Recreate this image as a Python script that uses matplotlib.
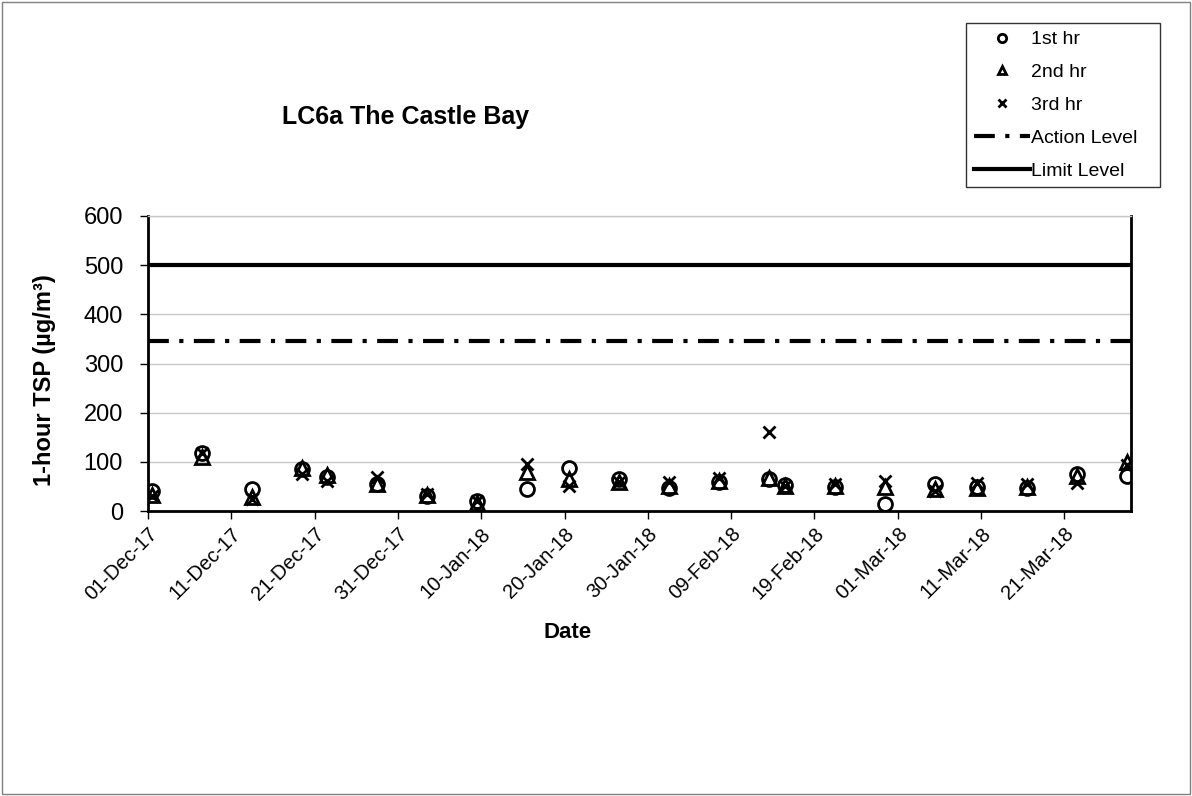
import numpy as np
import pandas as pd
import matplotlib
matplotlib.use("Agg")
import matplotlib.pyplot as plt
import matplotlib.dates as mdates
from matplotlib import font_manager
from matplotlib.patches import Rectangle

# sampling dates and the three hourly readings (ug/m3)
dates = ["2017-12-01", "2017-12-07", "2017-12-13", "2017-12-19", "2017-12-22",
         "2017-12-28", "2018-01-03", "2018-01-09", "2018-01-15", "2018-01-20",
         "2018-01-26", "2018-02-01", "2018-02-07", "2018-02-13", "2018-02-15",
         "2018-02-21", "2018-02-27", "2018-03-05", "2018-03-10", "2018-03-16",
         "2018-03-22", "2018-03-28"]
hr1 = [40, 117, 45, 85, 70, 55, 30, 20, 44, 88, 66, 46, 60, 66, 52, 48, 15, 55, 48, 46, 76, 72]
hr2 = [32, 110, 28, 88, 73, 55, 32, 17, 80, 66, 60, 50, 62, 68, 50, 50, 48, 45, 46, 48, 72, 100]
hr3 = [30, 118, 25, 75, 62, 70, 34, 20, 96, 50, 58, 58, 68, 160, 50, 55, 62, 40, 56, 54, 57, 93]
action_level = 345
limit_level = 500

names = {f.name for f in font_manager.fontManager.ttflist}
base_font = "Liberation Sans" if "Liberation Sans" in names else "DejaVu Sans"
plt.rcParams['font.family'] = [base_font, 'DejaVu Sans']

W, H = 1192, 796
x = pd.to_datetime(dates) + pd.Timedelta(hours=12)

fig = plt.figure(figsize=(W/100, H/100), dpi=100)
ax = fig.add_axes([148/W, 1 - 511/H, (1131-148)/W, (511-216)/H])

ax.plot(x, hr1, linestyle='none', marker='o', markersize=10, markerfacecolor='none',
        markeredgecolor='black', markeredgewidth=2, label='1st hr', zorder=5)
ax.plot(x, hr2, linestyle='none', marker='^', markersize=10, markerfacecolor='none',
        markeredgecolor='black', markeredgewidth=2, label='2nd hr', zorder=5)
ax.plot(x, hr3, linestyle='none', marker='x', markersize=9, markeredgecolor='black',
        markeredgewidth=2, label='3rd hr', zorder=5)

start = pd.Timestamp("2017-12-01")
end = pd.Timestamp("2018-03-29")
ax.plot([start, end], [action_level, action_level], color='black', linewidth=3,
        linestyle=(0, (5, 2.5, 1, 2.5)), label='Action Level', zorder=4)
ax.plot([start, end], [limit_level, limit_level], color='black', linewidth=3,
        linestyle='-', label='Limit Level', zorder=4)

ax.set_xlim(start, end)
ax.set_ylim(0, 600)
ax.set_yticks(np.arange(0, 601, 100))
ticks = pd.date_range(start, end, freq='10D')
ax.set_xticks(ticks)
ax.xaxis.set_major_formatter(mdates.DateFormatter('%d-%b-%y'))
ax.tick_params(axis='both', direction='out', length=6, width=1, color='black')
ax.tick_params(axis='y', labelsize=17, pad=12)
ax.tick_params(axis='x', labelsize=14.5)
for lab in ax.get_xticklabels():
    lab.set_rotation(45)
    lab.set_ha('right')
    lab.set_rotation_mode('anchor')

ax.grid(axis='y', color='#c8c8c8', linewidth=1)
ax.set_axisbelow(True)
for side in ['left', 'bottom', 'right']:
    ax.spines[side].set_linewidth(2)
    ax.spines[side].set_color('black')
ax.spines['top'].set_linewidth(1)
ax.spines['top'].set_color('#c8c8c8')

# axis titles sit where the reference has them, not centred on the axes
fig.text(568/W, 1 - 633/H, 'Date', fontsize=16, fontweight='bold', ha='center', va='center')
fig.text(45/W, 1 - 380/H, '1-hour TSP (µg/m³)', fontsize=17, fontweight='bold',
         rotation=90, ha='center', va='center')

fig.text(406/W, 1 - 117/H, 'LC6a The Castle Bay', fontsize=18, fontweight='bold',
         ha='center', va='center')

leg = ax.legend(loc='upper left', bbox_to_anchor=(966/W, 1 - 185/H, (1160-966)/W, (185-23)/H),
                bbox_transform=fig.transFigure, mode='expand', fontsize=14, markerscale=0.6,
                frameon=True, fancybox=False, edgecolor='black', borderpad=0.4,
                labelspacing=0.78, handlelength=2.9, handletextpad=0.05, borderaxespad=0)
leg.get_frame().set_linewidth(1)

fig.patches.append(Rectangle((2/W, 2/H), 1 - 4/W, 1 - 4/H, transform=fig.transFigure,
                             fill=False, edgecolor='#808080', linewidth=1))

fig.savefig('out.png', dpi=100)
